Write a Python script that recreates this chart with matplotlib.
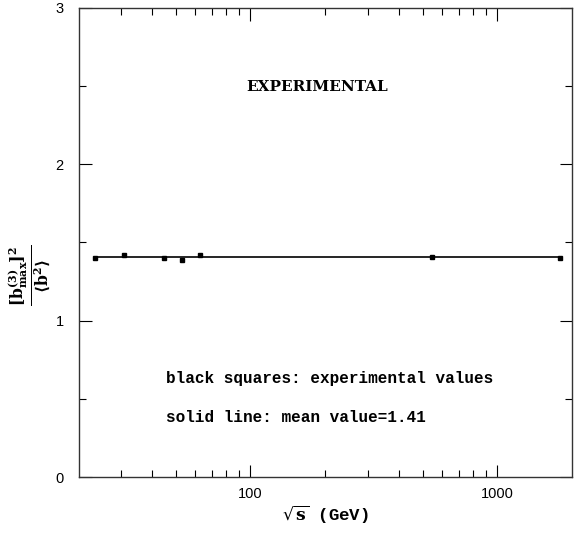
import matplotlib
matplotlib.use("Agg")
from matplotlib import pyplot as plt
from matplotlib.ticker import FixedLocator, NullFormatter
import numpy as np

# sqrt(s) in GeV and measured ratio
sqrt_s = [23.5, 30.7, 44.7, 52.8, 62.5, 546, 1800]
ratio = [1.40, 1.42, 1.40, 1.39, 1.42, 1.41, 1.40]
mean_val = 1.41

plt.rcParams['mathtext.fontset'] = 'dejavuserif'

fig = plt.figure(figsize=(5.82, 5.6), dpi=100)
ax = fig.add_axes([0.136, 0.148, 0.847, 0.838])

ax.plot([sqrt_s[0], sqrt_s[-1]], [mean_val, mean_val], color='black', lw=1.2)
ax.plot(sqrt_s, ratio, 's', color='black', markersize=3.2)

ax.set_xscale('log')
ax.set_xlim(20.3, 2010)
ax.set_ylim(0, 3)

ax.xaxis.set_major_locator(FixedLocator([100, 1000]))
ax.xaxis.set_minor_locator(FixedLocator([30, 40, 50, 60, 70, 80, 90,
                                         200, 300, 400, 500, 600, 700, 800, 900]))
ax.xaxis.set_minor_formatter(NullFormatter())
ax.set_xticklabels(['100', '1000'])
ax.yaxis.set_major_locator(FixedLocator([0, 1, 2, 3]))
ax.yaxis.set_minor_locator(FixedLocator([0.5, 1.5, 2.5]))
ax.set_yticklabels(['0', '1', '2', '3'])

ax.tick_params(which='both', direction='in', top=True, right=True,
               labelsize=10.5, width=0.8)
ax.tick_params(which='major', length=9)
ax.tick_params(which='minor', length=5)
ax.tick_params(axis='x', pad=7)
ax.tick_params(axis='y', pad=11)
for lab in ax.get_xticklabels() + ax.get_yticklabels():
    lab.set_family('Liberation Sans')

for sp in ax.spines.values():
    sp.set_linewidth(1.0)
    sp.set_color('#333333')

ax.text(0.483, 0.832, 'EXPERIMENTAL', transform=ax.transAxes, ha='center',
        va='center', fontsize=11, fontweight='bold', family='DejaVu Serif')
ax.text(0.176, 0.211, 'black squares: experimental values', transform=ax.transAxes,
        ha='left', va='center', fontsize=11.5, family='Liberation Mono',
        fontweight='bold')
ax.text(0.176, 0.126, 'solid line: mean value=1.41', transform=ax.transAxes,
        ha='left', va='center', fontsize=11.5, family='Liberation Mono',
        fontweight='bold')

ax.set_xlabel(r'$\mathbf{\sqrt{s}}$ (GeV)', fontsize=12.5, family='Liberation Mono',
              fontweight='bold', labelpad=2)
ax.set_ylabel(r'$\mathbf{\frac{[b^{(3)}_{max}]^2}{\langle b^2\rangle}}$', fontsize=16)
ax.yaxis.label.set_va('center')
ax.yaxis.set_label_coords(-0.1, 0.43)

fig.savefig('out.png', dpi=100)
